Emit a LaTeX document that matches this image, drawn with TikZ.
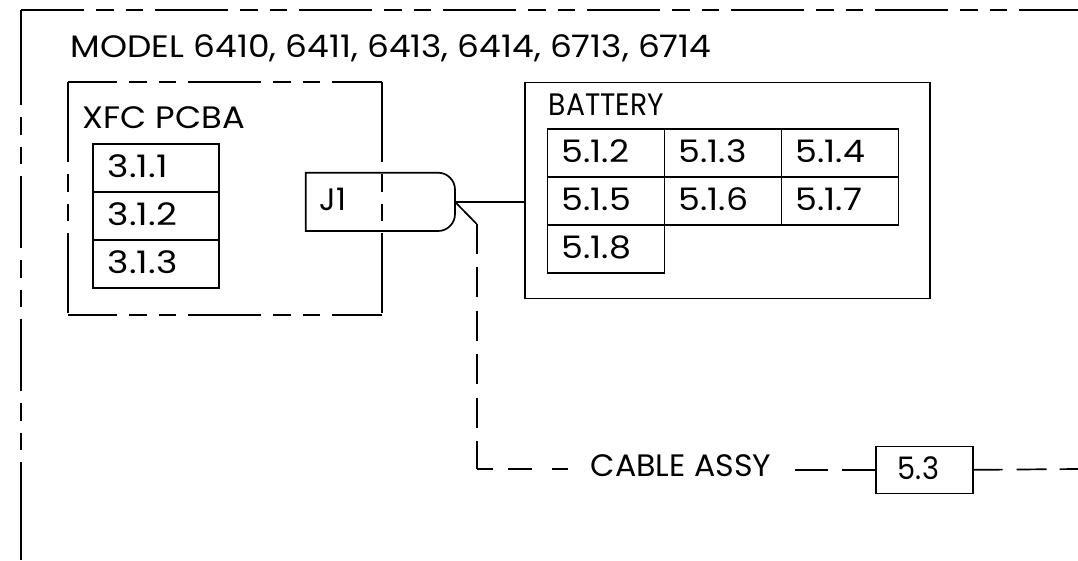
\documentclass[tikz,border=0pt]{standalone}
\usepackage{fontspec}
\usepackage{graphicx}
\setmainfont{Poppins}[Numbers=Monospaced]
\usetikzlibrary{calc}
\newcommand{\hsc}[2]{\scalebox{#1}[1]{#2}}
\tikzset{
  lbl/.style={anchor=base west, inner sep=0pt, font=\fontsize{31}{36}\selectfont},
  cellbox/.style={draw, anchor=north west, minimum height=48pt, inner ysep=0pt,
    align=left, text height=21pt, text depth=1.5pt, font=\fontsize{31}{36}\selectfont},
  batcell/.style={cellbox, inner xsep=14pt, text width=89pt},
  xfccell/.style={cellbox, inner xsep=14.7pt, text width=96.6pt},
  frameleft/.style={dash pattern=on 95pt off 12pt on 17.5pt off 12pt on 17.5pt off 12pt on 72pt off 12pt on 17.5pt off 12pt on 17.5pt off 12pt on 72pt off 12pt on 17.5pt off 12pt on 17.5pt off 12pt on 200pt},
  phantomline/.style={dash pattern=on 73pt off 12pt on 17.5pt off 12pt on 17.5pt off 12pt, dash phase=#1},
  sideline/.style={dash pattern=on 80pt off 12pt on 17.5pt off 12pt on 17.5pt off 12pt on 80pt off 20pt},
  cabledash/.style={dash pattern=on 30pt off 13.4pt},
}
\begin{document}
\begin{tikzpicture}[x=1pt,y=-1pt,line width=1.7pt]
\useasboundingbox (0,0) rectangle (1078,560);
% outer frame
\coordinate (fc) at (21,10);
\coordinate (fb) at (21,560);
\coordinate (fr) at (1078,10);
\draw[frameleft] (fc) -- (fb);
\draw[phantomline=10pt] (fc) -- (fr);
\node[lbl] (model) at (70,57) {\hsc{1.11}{MODEL 6410, 6411, 6413, 6414, 6713, 6714}};
% XFC PCBA box
\node[anchor=north west, inner sep=0pt, minimum width=312.5pt, minimum height=231pt] (xfc) at (68,82) {};
\draw[phantomline=24pt] (xfc.north west) -- (xfc.north east);
\draw[phantomline=24pt] (xfc.south west) -- (xfc.south east);
\draw[sideline] (xfc.north west) -- (xfc.south west);
\draw[sideline] (xfc.north east) -- (xfc.south east);
\node[lbl] (xfclbl) at (82,128) {\hsc{1.09}{XFC PCBA}};
\node[xfccell] (c311) at (92.3,143.3) {\hsc{1.17}{3.1.1}};
\node[xfccell] (c312) at (92.3,191.3) {\hsc{1.17}{3.1.2}};
\node[xfccell] (c313) at (92.3,239.3) {\hsc{1.17}{3.1.3}};
% J1
\node[anchor=north west, inner sep=0pt, minimum width=147.6pt, minimum height=56.6pt] (j1) at (305.7,172.7) {};
\draw (j1.south west) -- (j1.north west) -- ([xshift=-17pt]j1.north east)
  .. controls ([xshift=-7.6pt]j1.north east) and ([yshift=-7.6pt]j1.north east) .. ([yshift=-17pt]j1.north east)
  -- ([yshift=17pt]j1.south east)
  .. controls ([yshift=7.6pt]j1.south east) and ([xshift=-7.6pt]j1.south east) .. ([xshift=-17pt]j1.south east)
  -- cycle;
\node[lbl] (j1lbl) at (319,210) {J1};
% Battery
\node[draw, anchor=north west, inner sep=0pt, minimum width=405pt, minimum height=216pt] (bat) at (524.3,81.7) {};
\node[lbl] (batlbl) at (548,115) {\hsc{0.91}{BATTERY}};
\node[batcell] (c512) at (546.7,128.3) {\hsc{1.12}{5.1.2}};
\node[batcell] (c513) at (663.7,128.3) {\hsc{1.12}{5.1.3}};
\node[batcell] (c514) at (780.7,128.3) {\hsc{1.12}{5.1.4}};
\node[batcell] (c515) at (546.7,176.3) {\hsc{1.12}{5.1.5}};
\node[batcell] (c516) at (663.7,176.3) {\hsc{1.12}{5.1.6}};
\node[batcell] (c517) at (780.7,176.3) {\hsc{1.12}{5.1.7}};
\node[batcell] (c518) at (546.7,224.3) {\hsc{1.12}{5.1.8}};
% connections
\draw (j1.east) -- (j1.east -| bat.west);
\coordinate (cbend) at (476.7,224);
\coordinate (ccorner) at (476.7,469);
\coordinate (cend) at (1078,469);
\draw (j1.east) -- (cbend);
\draw[cabledash] (cbend) -- (ccorner);
\node[lbl] (cable) at (590,476.7) {\hsc{1.02}{CABLE ASSY}};
\node[draw, anchor=north west, minimum width=97pt, minimum height=47pt, inner ysep=0pt, inner xsep=22pt,
  text width=53pt, align=left, text height=21pt, text depth=1.5pt, font=\fontsize{31}{36}\selectfont] (b53) at (875,445.5) {\hsc{0.93}{5.3}};
\draw[dash pattern=on 16.5pt off 15pt on 24pt off 20pt on 16pt off 100pt] (ccorner) -- (ccorner -| cable.west);
\draw[dash pattern=on 33pt off 14pt on 33pt off 60pt] (b53.west) -- (b53.west -| cable.east);
\draw[dash pattern=on 29pt off 14pt on 30pt off 13pt on 60pt] (b53.east) -- (cend);
\end{tikzpicture}
\end{document}
